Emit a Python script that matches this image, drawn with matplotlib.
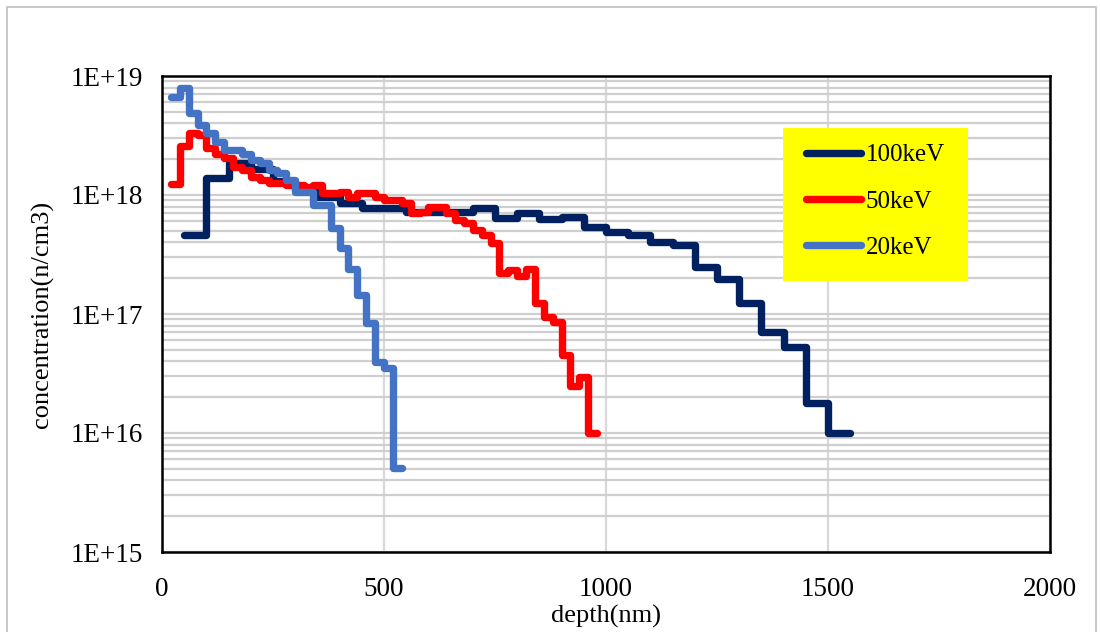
import numpy as np
import matplotlib
matplotlib.use("Agg")
import matplotlib.pyplot as plt
from matplotlib.patches import Rectangle
from matplotlib.ticker import LogLocator, FuncFormatter, MultipleLocator

# depth bin edges (nm) and concentration per bin (n/cm3)
edges_100 = [50, 100, 150, 200, 250, 300, 350, 400, 450, 500, 550, 600, 650, 700,
             750, 800, 850, 900, 950, 1000, 1050, 1100, 1150, 1200, 1250, 1300,
             1350, 1400, 1450, 1500, 1550]
conc_100 = [4.6e17, 1.39e18, 1.86e18, 1.65e18, 1.3e18, 1.1e18, 9.6e17, 8.6e17,
            7.8e17, 7.8e17, 7.2e17, 7.2e17, 7.2e17, 7.8e17, 6.4e17, 7.1e17, 6.3e17,
            6.5e17, 5.4e17, 4.9e17, 4.6e17, 4.0e17, 3.8e17, 2.5e17, 1.97e17,
            1.24e17, 7.1e16, 5.3e16, 1.8e16, 1.0e16]

edges_50 = list(range(20, 1000, 20))
conc_50 = [1.24e18, 2.6e18, 3.3e18, 3.2e18, 2.5e18, 2.2e18, 2.05e18, 1.72e18,
           1.62e18, 1.42e18, 1.34e18, 1.26e18, 1.26e18, 1.21e18, 1.21e18, 1.17e18,
           1.21e18, 1.04e18, 1.04e18, 1.06e18, 9.6e17, 1.04e18, 1.04e18, 9.6e17,
           9.1e17, 9.1e17, 8.6e17, 7.1e17, 7.2e17, 7.9e17, 7.9e17, 7.1e17, 6.2e17,
           5.8e17, 5.1e17, 4.6e17, 3.95e17, 2.2e17, 2.35e17, 2.1e17, 2.4e17,
           1.24e17, 9.4e16, 8.6e16, 4.5e16, 2.5e16, 2.96e16, 1.0e16]

edges_20 = list(range(20, 560, 20))
conc_20 = [6.6e18, 7.9e18, 4.9e18, 3.9e18, 3.3e18, 2.8e18, 2.4e18, 2.4e18, 2.2e18,
           1.97e18, 1.86e18, 1.62e18, 1.53e18, 1.34e18, 1.06e18, 1.06e18, 8.2e17,
           8.2e17, 5.3e17, 3.6e17, 2.4e17, 1.45e17, 8.4e16, 3.95e16, 3.5e16, 5.1e15]

series = [("100keV", edges_100, conc_100, "#002060"),
          ("50keV", edges_50, conc_50, "#FF0000"),
          ("20keV", edges_20, conc_20, "#4472C4")]

serif = ["Liberation Serif", "DejaVu Serif"]
plt.rcParams["font.family"] = serif

fig = plt.figure(figsize=(11, 6.32), dpi=100)
# outer chart border
fig.patches.append(Rectangle((7 / 1100, -0.05), 1089 / 1100, 1.05 - 7 / 632,
                             transform=fig.transFigure, fill=False,
                             edgecolor="#BFBFBF", linewidth=1.2))
ax = fig.add_axes([162 / 1100, 80 / 632, 888 / 1100, 476 / 632])

for label, x, c, col in series:
    ax.step(x, c + [c[-1]], where="post", color=col, linewidth=5.3,
            solid_capstyle="round", solid_joinstyle="round", label=label, zorder=3)

ax.set_yscale("log")
ax.set_ylim(1e15, 1e19)
ax.set_xlim(0, 2000)
ax.xaxis.set_major_locator(MultipleLocator(500))
ax.yaxis.set_major_locator(LogLocator(base=10, numticks=10))
ax.yaxis.set_minor_locator(LogLocator(base=10, subs=np.arange(2, 10), numticks=20))
ax.yaxis.set_major_formatter(FuncFormatter(lambda v, p: "1E+%d" % round(np.log10(v))))
ax.yaxis.set_minor_formatter(FuncFormatter(lambda v, p: ""))

ax.grid(True, which="major", axis="x", color="#D9D9D9", linewidth=1.6)
ax.grid(True, which="both", axis="y", color="#CFCFCF", linewidth=1.6)
ax.set_axisbelow(True)
ax.tick_params(which="both", length=0)
ax.tick_params(axis="y", pad=14, labelsize=19.5)
ax.tick_params(axis="x", pad=18, labelsize=19.5)
for s in ax.spines.values():
    s.set_linewidth(1.8)
    s.set_color("black")

ax.set_xlabel("depth(nm)", fontsize=19, labelpad=2)
ax.set_ylabel("concentration(n/cm3)", fontsize=19, labelpad=12)

# legend sits on a yellow panel
ax.add_patch(Rectangle((0.6993, 0.5693), 0.2084, 0.3215, transform=ax.transAxes,
                       facecolor="#FFFF00", edgecolor="none", zorder=4))
leg = ax.legend(loc="center", bbox_to_anchor=(0.8035, 0.7365), frameon=False,
                fontsize=18, handlelength=2.2, handletextpad=0.2, labelspacing=0.95)
leg.set_zorder(5)

fig.savefig("out.png", dpi=100)
